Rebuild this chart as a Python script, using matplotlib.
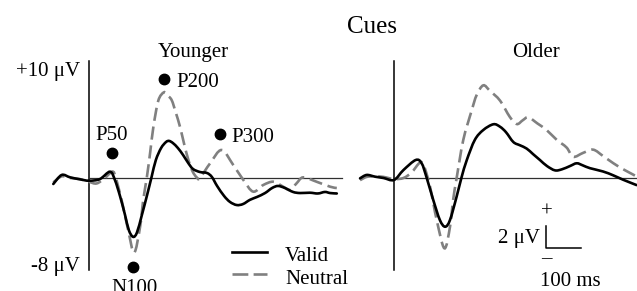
import matplotlib
matplotlib.use("Agg")
import matplotlib.pyplot as plt
from matplotlib.path import Path
from matplotlib.patches import PathPatch
import numpy as np

# ---------------- data (time in ms, amplitude in µV) ----------------
young_valid_t = [-102, -78, -54, -26, 0, 31, 60, 74, 89, 103, 114, 126, 137, 151, 166, 179,
                 191, 206, 220, 229, 240, 254, 269, 283, 297, 317, 337, 351, 366, 386, 403,
                 422, 440, 460, 480, 503, 523, 540, 560, 583, 603, 631, 654, 674, 689, 708]
young_valid_v = [-0.55, 0.28, 0.06, -0.12, -0.25, -0.1, 0.58, -0.18, -1.7, -3.4, -4.8, -5.4,
                 -5.0, -3.4, -1.56, 0.12, 1.65, 2.75, 3.3, 3.4, 3.2, 2.75, 2.1, 1.4, 0.83,
                 0.55, 0.46, 0.1, -0.73, -1.65, -2.2, -2.48, -2.39, -2.0, -1.74, -1.38,
                 -0.92, -0.73, -0.92, -1.28, -1.38, -1.35, -1.42, -1.28, -1.38, -1.42]

young_neutral_t = [-102, -78, -54, -26, 0, 22, 45, 65, 74, 93, 112, 129, 146, 155, 165, 175,
                   184, 198, 214, 223, 236, 248, 260, 272, 284, 296, 308, 317, 346, 379, 412,
                   441, 469, 498, 527, 555, 574, 593, 612, 650, 689, 708]
young_neutral_v = [-0.4, 0.15, 0.0, -0.1, -0.35, -0.5, 0.0, 0.55, 0.28, -2.0, -4.8, -6.85,
                   -4.47, -2.0, 0.0, 2.4, 4.7, 7.1, 7.86, 7.6, 7.16, 6.0, 4.7, 3.1, 1.65, 0.6,
                   0.05, 0.0, 1.35, 2.57, 1.2, -0.18, -1.25, -0.64, -0.34, -0.8, -1.1, -0.49,
                   0.06, -0.34, -0.8, -0.92]

old_valid_t = [-97, -78, -54, -30, 0, 27, 62, 79, 93, 112, 131, 146, 160, 179, 193, 208, 231,
               255, 284, 303, 320, 341, 360, 379, 397, 417, 437, 460, 480, 503, 522, 540, 560,
               597, 626, 654, 693]
old_valid_v = [-0.03, 0.28, 0.12, 0.0, -0.18, 0.73, 1.65, 1.35, 0.06, -2.0, -3.85, -4.47,
               -3.85, -1.7, 0.06, 1.65, 3.5, 4.4, 4.93, 4.7, 4.2, 3.3, 3.0, 2.7, 2.2, 1.65,
               1.1, 0.7, 0.8, 1.1, 1.35, 1.15, 0.9, 0.6, 0.25, -0.15, -0.65]

old_neutral_t = [-97, -78, -54, -30, 0, 27, 50, 70, 79, 88, 103, 122, 144, 160, 169, 179, 198,
                 222, 236, 255, 274, 303, 331, 351, 368, 384, 410, 436, 465, 493, 512, 540,
                 569, 598, 627, 655, 684, 700]
old_neutral_v = [-0.2, 0.1, 0.15, 0.1, -0.1, 0.0, 0.5, 1.3, 1.45, 0.9, -0.8, -3.85, -6.45,
                 -4.47, -2.0, 0.0, 3.5, 6.2, 7.6, 8.5, 8.0, 7.1, 5.6, 4.95, 5.3, 5.57, 5.0,
                 4.4, 3.5, 2.8, 1.95, 2.3, 2.6, 2.0, 1.35, 0.8, 0.3, 0.0]

peak_labels = ["P50", "P200", "P300", "N100"]
peak_t = [65, 214, 374, 127]
peak_v = [2.25, 9.06, 4.04, -8.14]

panel_titles = ["Younger", "Older"]
series_labels = ["Valid", "Neutral"]
y_tick_labels = ["+10 \u03bcV", "-8 \u03bcV"]

# ---------------- layout ----------------
W, H = 637, 291
DPI = 100
plt.rcParams['font.family'] = ['Liberation Serif', 'DejaVu Serif']
fig = plt.figure(figsize=(W / DPI, H / DPI), dpi=DPI)

PX_PER_MS = 0.35
PX_PER_UV = 10.9
Y0 = 178.0


def make_ax(px_left, px_right, x0):
    ax = fig.add_axes([px_left / W, 0, (px_right - px_left) / W, 1])
    ax.set_xlim((px_left - x0) / PX_PER_MS, (px_right - x0) / PX_PER_MS)
    ax.set_ylim((Y0 - H) / PX_PER_UV, Y0 / PX_PER_UV)
    ax.axis('off')
    return ax


def smooth_curve(ax, t, v, **kw):
    """Draw a smooth line through the given points (cubic Bezier segments)."""
    p = np.column_stack([t, v]).astype(float)
    n = len(p)
    verts = [p[0]]
    codes = [Path.MOVETO]
    for i in range(n - 1):
        p0 = p[i - 1] if i > 0 else p[i]
        p1, p2 = p[i], p[i + 1]
        p3 = p[i + 2] if i + 2 < n else p[i + 1]
        c1 = p1 + (p2 - p0) / 6.0
        c2 = p2 - (p3 - p1) / 6.0
        verts += [c1, c2, p2]
        codes += [Path.CURVE4] * 3
    patch = PathPatch(Path(verts, codes), fill=False, **kw)
    ax.add_patch(patch)


axL = make_ax(0, 345, 89)
axR = make_ax(345, 637, 394)

FS = 15
solid_kw = dict(edgecolor='black', lw=1.9, capstyle='round', joinstyle='round', zorder=3)
dash_kw = dict(edgecolor='#808080', lw=1.9, linestyle=(0, (5, 2.2)), zorder=2)

for ax, xend in ((axL, 723), (axR, 760)):
    ax.plot([0, 0], [-8.45, 10.75], color='black', lw=1.1, zorder=1)
    ax.plot([0, xend], [0, 0], color='#303030', lw=0.9, zorder=1)

smooth_curve(axL, young_neutral_t, young_neutral_v, **dash_kw)
smooth_curve(axL, young_valid_t, young_valid_v, **solid_kw)
smooth_curve(axR, old_neutral_t, old_neutral_v, **dash_kw)
smooth_curve(axR, old_valid_t, old_valid_v, **solid_kw)

# peak markers
axL.plot(peak_t, peak_v, 'o', color='black', ms=7.5, zorder=4)
axL.text(65.7, 3.49, peak_labels[0], fontsize=FS, ha='center', va='baseline')
axL.text(250.6, 8.32, peak_labels[1], fontsize=FS, ha='left', va='baseline')
axL.text(405.7, 3.33, peak_labels[2], fontsize=FS, ha='left', va='baseline')
axL.text(128.6, -10.55, peak_labels[3], fontsize=FS, ha='center', va='baseline')

# amplitude labels
axL.text(-25.7, 9.38, y_tick_labels[0], fontsize=FS, ha='right', va='baseline')
axL.text(-25.7, -8.53, y_tick_labels[1], fontsize=FS, ha='right', va='baseline')

# panel titles
axL.text(297, 11.07, panel_titles[0], fontsize=FS, ha='center', va='baseline')
axR.text(405.7, 11.07, panel_titles[1], fontsize=FS, ha='center', va='baseline')
fig.text(372 / W, 1 - 33 / H, "Cues", fontsize=18, ha='center', va='baseline')

# legend (drawn manually)
axL.plot([407.7, 507.7], [-6.82, -6.82], color='black', lw=1.9)
axL.plot([407.7, 507.7], [-8.83, -8.83], color='#808080', lw=1.9, dashes=(6, 2))
axL.text(560, -7.61, series_labels[0], fontsize=FS, ha='left', va='baseline')
axL.text(560, -9.75, series_labels[1], fontsize=FS, ha='left', va='baseline')

# scale bar
axR.plot([433.4, 433.4, 533.4], [-4.39, -6.39, -6.39], color='black', lw=1.1)
axR.text(436, -3.09, "+", fontsize=FS, ha='center', va='center')
axR.text(436, -7.37, "\u2013", fontsize=FS, ha='center', va='center')
axR.text(417, -5.99, "2 \u03bcV", fontsize=FS, ha='right', va='baseline')
axR.text(417, -9.88, "100 ms", fontsize=FS, ha='left', va='baseline')

fig.savefig("out.png", dpi=DPI)
